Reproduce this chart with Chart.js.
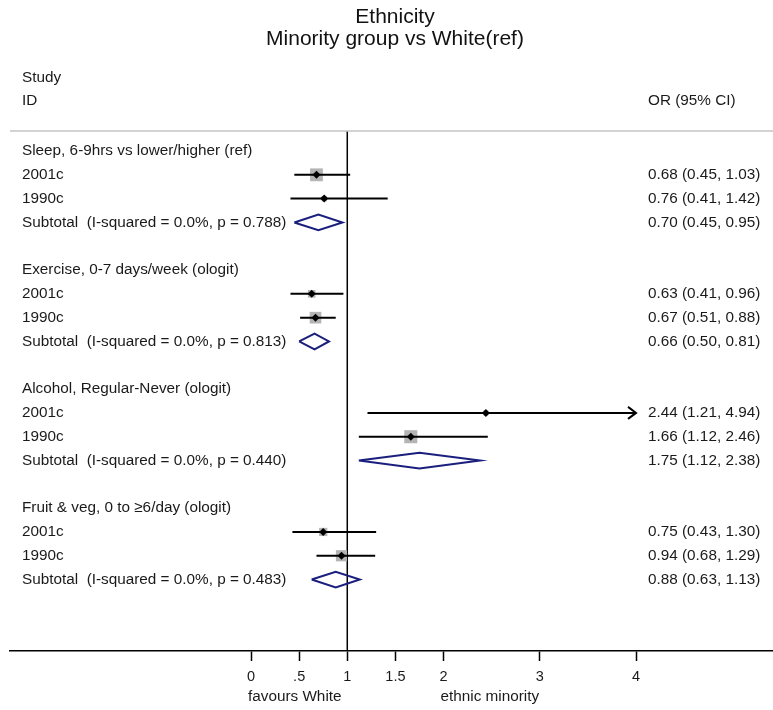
<!DOCTYPE html>
<html>
<head>
<meta charset="utf-8">
<script src="https://cdn.jsdelivr.net/npm/chart.js@4/dist/chart.umd.min.js"></script>
<style>
  html, body { margin: 0; padding: 0; background: #ffffff; overflow: hidden; }
  #wrap { width: 773px; height: 710px; overflow: hidden; }
  canvas { display: block; }
</style>
</head>
<body>
<div id="wrap"><canvas id="c" width="773" height="710"></canvas></div>
<script>
// ---------- DATA ----------
const titleLines = ['Ethnicity', 'Minority group vs White(ref)'];
const groupLabels = [
  'Sleep, 6-9hrs vs lower/higher (ref)',
  'Exercise, 0-7 days/week (ologit)',
  'Alcohol, Regular-Never (ologit)',
  'Fruit & veg, 0 to \u22656/day (ologit)'
];
const studyLabels = ['2001c', '1990c'];

const or2001 = [0.68, 0.63, 2.44, 0.75];
const lo2001 = [0.45, 0.41, 1.21, 0.43];
const hi2001 = [1.03, 0.96, 4.94, 1.30];
const wt2001 = [85, 30, 12, 35];

const or1990 = [0.76, 0.67, 1.66, 0.94];
const lo1990 = [0.41, 0.51, 1.12, 0.68];
const hi1990 = [1.42, 0.88, 2.46, 1.29];
const wt1990 = [15, 70, 88, 65];

const subOR = [0.70, 0.66, 1.75, 0.88];
const subLo = [0.45, 0.50, 1.12, 0.63];
const subHi = [0.95, 0.81, 2.38, 1.13];
const iSquared = ['0.0%', '0.0%', '0.0%', '0.0%'];
const pValues = ['0.788', '0.813', '0.440', '0.483'];

const tickValues = [0, 0.5, 1, 1.5, 2, 3, 4];
const tickLabels = ['0', '.5', '1', '1.5', '2', '3', '4'];
const nullValue = 1;
const favoursLeft = 'favours White';
const favoursRight = 'ethnic minority';
const colHeadLeft = ['Study', 'ID'];
const colHeadRight = 'OR (95% CI)';

// ---------- BUILD ----------
const AX_MAX = 4;
const ROWS_PER_GROUP = 5;
const FONT = '"Liberation Sans", Arial, sans-serif';
const NAVY = '#1a1f7e';

const studies = [];
groupLabels.forEach((g, gi) => {
  studies.push({ row: gi * ROWS_PER_GROUP + 1, or: or2001[gi], lo: lo2001[gi], hi: hi2001[gi], w: wt2001[gi], label: studyLabels[0] });
  studies.push({ row: gi * ROWS_PER_GROUP + 2, or: or1990[gi], lo: lo1990[gi], hi: hi1990[gi], w: wt1990[gi], label: studyLabels[1] });
});

const datasets = [];
// null line
datasets.push({
  type: 'line', data: [{ x: nullValue, y: -0.84 }, { x: nullValue, y: 21 }],
  borderColor: '#000', borderWidth: 1.5, pointRadius: 0, order: 5
});
// CI lines
studies.forEach(s => {
  datasets.push({
    type: 'line', data: [{ x: s.lo, y: s.row }, { x: Math.min(s.hi, AX_MAX), y: s.row }],
    borderColor: '#000', borderWidth: 2, pointRadius: 0, order: 3
  });
});
// weight boxes
datasets.push({
  type: 'scatter', data: studies.map(s => ({ x: s.or, y: s.row })),
  pointStyle: 'rect', backgroundColor: '#b4b4b4', borderWidth: 0,
  pointRadius: studies.map(s => 1.39 * Math.sqrt(s.w) / Math.SQRT2), order: 4
});
// point estimates
datasets.push({
  type: 'scatter', data: studies.map(s => ({ x: s.or, y: s.row })),
  pointStyle: 'rectRot', backgroundColor: '#000', borderColor: '#000', borderWidth: 0,
  pointRadius: 4, order: 1
});
// subtotal diamonds
const DH = 0.33;
groupLabels.forEach((g, gi) => {
  const r = gi * ROWS_PER_GROUP + 3;
  datasets.push({
    type: 'line',
    data: [{ x: subLo[gi], y: r }, { x: subOR[gi], y: r - DH }, { x: subHi[gi], y: r }, { x: subOR[gi], y: r + DH }, { x: subLo[gi], y: r }],
    borderColor: NAVY, borderWidth: 2, pointRadius: 0, fill: false, tension: 0, order: 2
  });
});

const textPlugin = {
  id: 'forestText',
  afterDraw(chart) {
    const { ctx, chartArea, scales } = chart;
    const xs = scales.x, ys = scales.y;
    ctx.save();
    // top separator line
    ctx.strokeStyle = '#c4c4c4';
    ctx.lineWidth = 1.5;
    ctx.beginPath();
    ctx.moveTo(chartArea.left, chartArea.top);
    ctx.lineTo(chartArea.right, chartArea.top);
    ctx.stroke();

    // arrows for truncated CIs
    ctx.strokeStyle = '#000';
    ctx.lineWidth = 2;
    studies.forEach(s => {
      if (s.hi > AX_MAX) {
        const px = xs.getPixelForValue(AX_MAX), py = ys.getPixelForValue(s.row);
        ctx.beginPath();
        ctx.moveTo(px - 8, py - 6);
        ctx.lineTo(px, py);
        ctx.lineTo(px - 8, py + 6);
        ctx.stroke();
      }
    });

    // title
    ctx.fillStyle = '#111';
    ctx.textAlign = 'center';
    ctx.textBaseline = 'middle';
    ctx.font = '21px ' + FONT;
    ctx.fillText(titleLines[0], 395, 17.5);
    ctx.fillText(titleLines[1], 395, 39);

    const leftX = chartArea.left + 12;
    const rightX = 648;
    ctx.font = '15.3px ' + FONT;
    ctx.fillStyle = '#1a1a1a';
    ctx.textAlign = 'left';
    ctx.fillText(colHeadLeft[0], leftX, 78);
    ctx.fillText(colHeadLeft[1], leftX, 101);
    ctx.fillText(colHeadRight, rightX, 101);

    const fmt = v => v.toFixed(2);
    groupLabels.forEach((g, gi) => {
      const base = gi * ROWS_PER_GROUP;
      ctx.fillText(g, leftX, ys.getPixelForValue(base));
      const ss = [studies[gi * 2], studies[gi * 2 + 1]];
      ss.forEach(s => {
        const py = ys.getPixelForValue(s.row);
        ctx.fillText(s.label, leftX, py);
        ctx.fillText(`${fmt(s.or)} (${fmt(s.lo)}, ${fmt(s.hi)})`, rightX, py);
      });
      const py = ys.getPixelForValue(base + 3);
      ctx.fillText(`Subtotal  (I-squared = ${iSquared[gi]}, p = ${pValues[gi]})`, leftX, py);
      ctx.fillText(`${fmt(subOR[gi])} (${fmt(subLo[gi])}, ${fmt(subHi[gi])})`, rightX, py);
    });

    // favours labels
    ctx.fillText(favoursLeft, xs.getPixelForValue(0) - 3, 697);
    ctx.fillText(favoursRight, xs.getPixelForValue(2) - 3, 697);
    ctx.restore();
  }
};

new Chart(document.getElementById('c'), {
  type: 'scatter',
  data: { datasets },
  options: {
    responsive: false,
    devicePixelRatio: 1,
    animation: false,
    events: [],
    layout: { autoPadding: false, padding: { top: 131, left: 10, right: 0, bottom: 0 } },
    plugins: { legend: { display: false }, tooltip: { enabled: false }, title: { display: false } },
    scales: {
      x: {
        type: 'linear',
        position: 'bottom',
        min: -2.504, max: 5.423,
        afterBuildTicks(scale) { scale.ticks = tickValues.map(v => ({ value: v })); },
        afterFit(scale) { scale.height = 59; },
        ticks: {
          autoSkip: false, maxRotation: 0, padding: 7,
          color: '#1a1a1a', font: { family: FONT, size: 14.5 },
          callback: (v, i) => tickLabels[i]
        },
        grid: { display: true, drawOnChartArea: false, drawTicks: true, tickLength: 10, tickColor: '#000', tickWidth: 1.5 },
        border: { display: true, color: '#000', width: 1.5 }
      },
      y: {
        type: 'linear', display: false, reverse: true, min: -0.84, max: 21
      }
    }
  },
  plugins: [textPlugin]
});
</script>
</body>
</html>
